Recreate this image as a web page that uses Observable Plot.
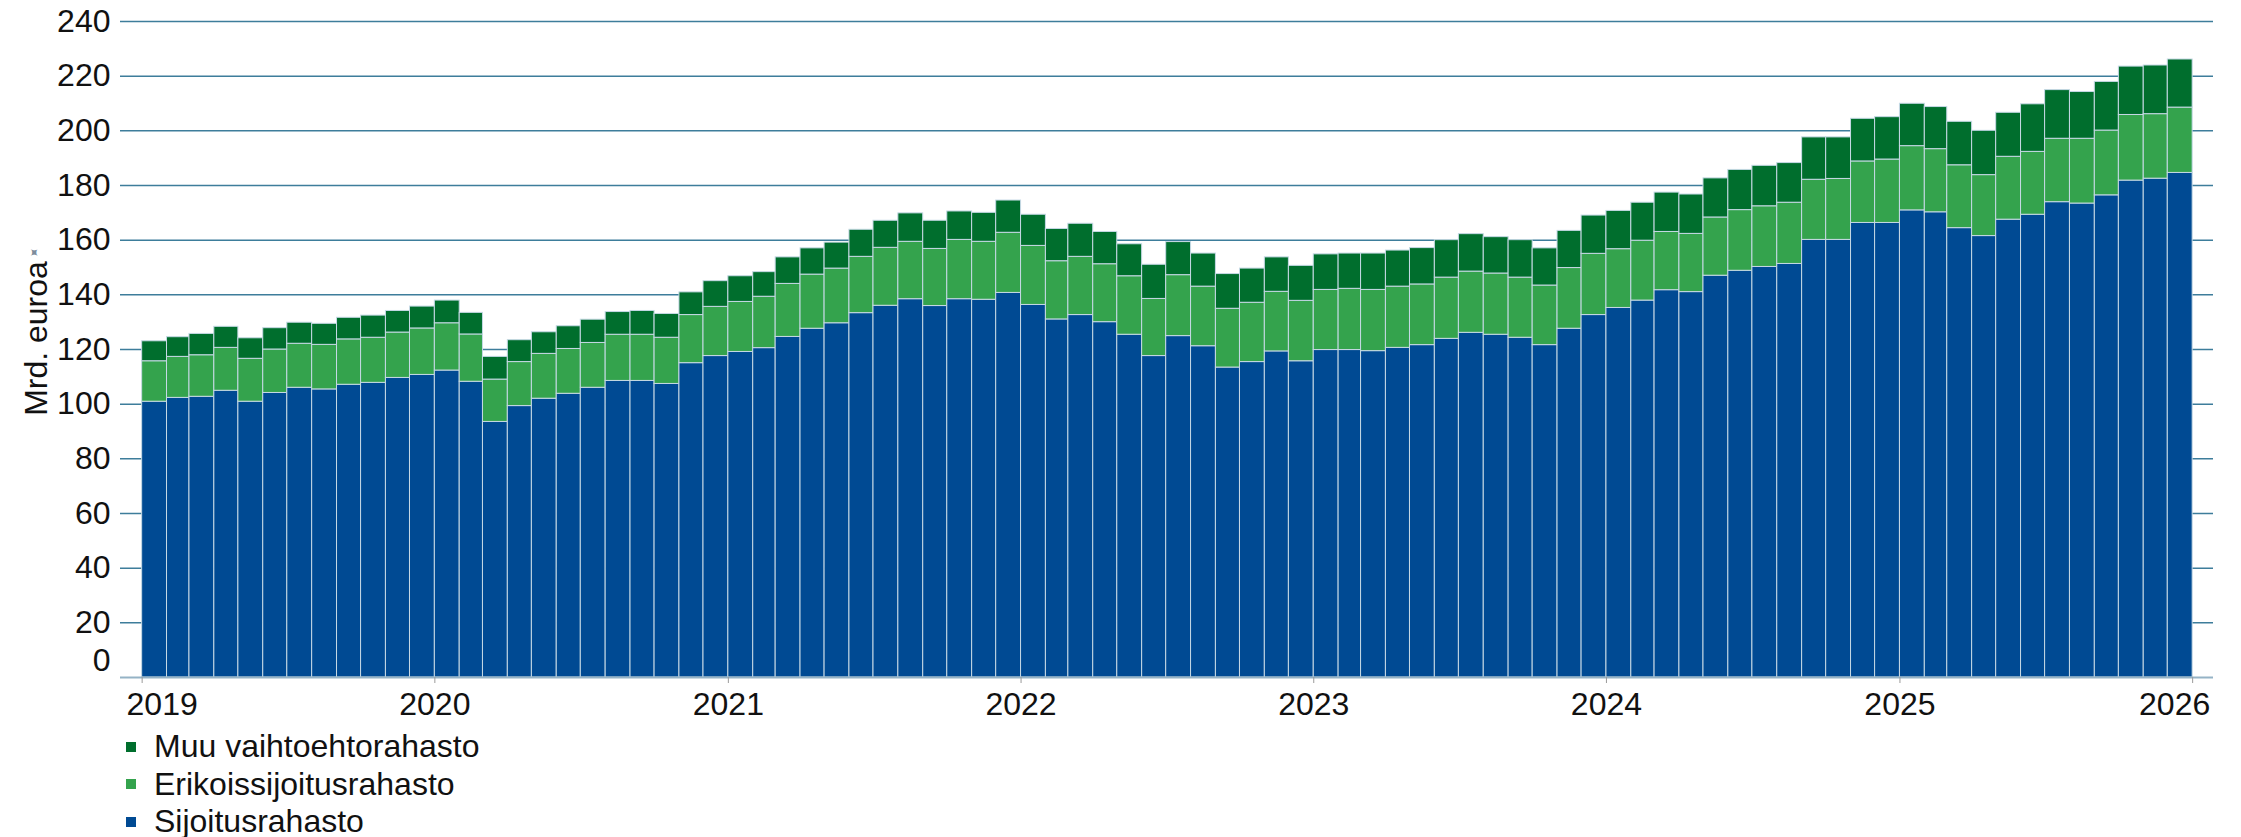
<!DOCTYPE html>
<html>
<head>
<meta charset="utf-8">
<script src="https://cdn.jsdelivr.net/npm/d3@7"></script>
<script src="https://cdn.jsdelivr.net/npm/@observablehq/plot@0.6"></script>
<style>
  html, body { margin: 0; padding: 0; background: #ffffff; }
  body { font-family: "Liberation Sans", Arial, sans-serif; color: #111; }
  #chart svg { display: block; }
  #legend { margin-top: 6px; padding-left: 126px; font-size: 32px; line-height: 37.5px; }
  #legend .row { white-space: nowrap; }
  #legend .sw { display: inline-block; width: 10px; height: 10px; margin-right: 18px; vertical-align: middle; position: relative; top: -2px; }
</style>
</head>
<body>
<div id="chart"></div>
<div id="legend"></div>
<script>
// ---- Data (monthly, Jan 2019 – Dec 2025), billions of euros ----
const firstMonth = [2019, 0];
const sijoitusrahasto = [
  100.9, 102.3, 102.7, 104.9, 100.9, 104.1, 106.0, 105.4, 107.1, 107.8, 109.6, 110.7,
  112.3, 108.2, 93.5, 99.3, 102.0, 103.8, 106.0, 108.5, 108.5, 107.4, 115.0, 117.6,
  119.1, 120.5, 124.6, 127.6, 129.6, 133.3, 136.0, 138.4, 135.9, 138.4, 138.2, 140.7,
  136.3, 131.0, 132.6, 130.0, 125.4, 117.6, 124.9, 121.2, 113.4, 115.4, 119.3, 115.7,
  119.8, 119.8, 119.4, 120.6, 121.6, 123.9, 126.1, 125.4, 124.3, 121.6, 127.6, 132.6,
  135.2, 137.9, 141.7, 141.0, 147.0, 148.8, 150.2, 151.3, 160.1, 160.1, 166.3, 166.3,
  170.9, 170.2, 164.4, 161.5, 167.5, 169.3, 173.9, 173.4, 176.4, 181.8, 182.5, 184.6
];
const erikoissijoitusrahasto = [
  14.8, 15.0, 15.2, 15.7, 15.7, 15.9, 16.1, 16.3, 16.6, 16.5, 16.6, 17.0,
  17.3, 17.3, 15.5, 16.1, 16.4, 16.4, 16.4, 16.9, 16.9, 16.9, 17.6, 18.0,
  18.3, 18.8, 19.4, 19.8, 20.0, 20.6, 21.2, 21.0, 20.9, 21.7, 21.2, 22.0,
  21.6, 21.3, 21.3, 21.2, 21.4, 20.9, 22.3, 21.8, 21.5, 21.7, 21.8, 22.1,
  22.0, 22.4, 22.4, 22.4, 22.2, 22.4, 22.4, 22.4, 22.0, 21.8, 22.2, 22.4,
  21.5, 21.9, 21.3, 21.3, 21.3, 22.2, 22.2, 22.4, 22.0, 22.3, 22.5, 23.2,
  23.5, 23.1, 23.0, 22.3, 23.0, 23.0, 23.2, 23.7, 23.7, 24.0, 23.6, 23.9
];
const muuVaihtoehtorahasto = [
  7.3, 7.2, 7.8, 7.7, 7.5, 7.8, 7.7, 7.7, 7.9, 8.1, 7.9, 8.0,
  8.3, 7.9, 8.3, 8.0, 7.9, 8.3, 8.5, 8.3, 8.7, 8.7, 8.3, 9.4,
  9.4, 9.0, 9.7, 9.6, 9.5, 9.9, 9.9, 10.4, 10.3, 10.4, 10.6, 11.8,
  11.4, 11.8, 12.1, 11.8, 11.7, 12.5, 12.1, 12.1, 12.7, 12.5, 12.6, 12.8,
  13.0, 12.9, 13.3, 13.2, 13.3, 13.7, 13.7, 13.3, 13.7, 13.6, 13.6, 14.0,
  14.0, 13.9, 14.4, 14.4, 14.3, 14.7, 14.8, 14.5, 15.5, 15.2, 15.6, 15.5,
  15.5, 15.4, 15.9, 16.2, 16.1, 17.4, 17.8, 17.1, 17.8, 17.7, 17.8, 17.6
];
const seriesNames = ["Sijoitusrahasto", "Erikoissijoitusrahasto", "Muu vaihtoehtorahasto"];
const seriesColors = ["#004a93", "#34a34d", "#006e2d"];
const legendOrder = ["Muu vaihtoehtorahasto", "Erikoissijoitusrahasto", "Sijoitusrahasto"];
const yTickValues = [0, 20, 40, 60, 80, 100, 120, 140, 160, 180, 200, 220, 240];
const xTickYears = [2019, 2020, 2021, 2022, 2023, 2024, 2025, 2026];
const yLabel = "Mrd. euroa";

// ---- Build table ----
const start = new Date(Date.UTC(firstMonth[0], firstMonth[1], 1));
const seriesValues = [sijoitusrahasto, erikoissijoitusrahasto, muuVaihtoehtorahasto];
const rows = [];
for (let i = 0; i < sijoitusrahasto.length; i++) {
  const date = d3.utcMonth.offset(start, i);
  seriesNames.forEach((name, k) => rows.push({date, series: name, value: seriesValues[k][i]}));
}
const yearDate = y => new Date(Date.UTC(y, 0, 1));
const yearTicks = xTickYears.map(yearDate);
const firstYear = xTickYears[0], lastYear = xTickYears[xTickYears.length - 1];

const font = "'Liberation Sans', Arial, sans-serif";

const chart = Plot.plot({
  width: 2241,
  height: 722,
  marginTop: 21,
  marginBottom: 45,
  marginLeft: 120,
  marginRight: 28,
  style: {fontFamily: font, fontSize: "32px", color: "#111", background: "#fff"},
  x: {type: "utc", domain: [d3.utcDay.offset(yearDate(firstYear), -27), d3.utcDay.offset(yearDate(lastYear), 26)], label: null},
  y: {domain: [0, 240], label: null},
  color: {domain: seriesNames, range: seriesColors},
  marks: [
    Plot.ruleY(yTickValues.filter(d => d > 0), {stroke: "#3d7d9b", strokeWidth: 1.5}),
    Plot.rectY(rows, Plot.stackY({
      x1: "date",
      x2: d => d3.utcMonth.offset(d.date, 1),
      y: "value",
      fill: "series",
      order: seriesNames,
      stroke: "#c6d9e5",
      strokeWidth: 1
    })),
    Plot.ruleY([0], {stroke: "#95b3c6", strokeWidth: 2}),
    Plot.axisY({ticks: yTickValues.filter(d => d > 0), tickSize: 0, tickPadding: 10, fontSize: 32, label: null}),
    Plot.axisY({ticks: [0], tickSize: 0, tickPadding: 10, fontSize: 32, dy: -17, label: null}),
    Plot.axisX({ticks: yearTicks, tickSize: 6, tickPadding: 9, stroke: "#9a9a9a", fontSize: 32, label: null,
      tickFormat: d => { const y = d.getUTCFullYear(); return (y === firstYear || y === lastYear) ? "" : String(y); }}),
    Plot.axisX({ticks: [yearDate(firstYear)], tickSize: 0, tickPadding: 15, dx: 20, fontSize: 32, label: null, tickFormat: d => String(d.getUTCFullYear())}),
    Plot.axisX({ticks: [yearDate(lastYear)], tickSize: 0, tickPadding: 15, dx: -18, fontSize: 32, label: null, tickFormat: d => String(d.getUTCFullYear())}),
    Plot.text([yLabel], {frameAnchor: "left", rotate: -90, dx: -84, dy: -11, fontSize: 32, fill: "#111", textAnchor: "middle"}),
    Plot.text(["✦"], {frameAnchor: "top-left", dx: -87, dy: 224, fontSize: 13, fill: "#7d8c9c", rotate: 45})
  ]
});
document.getElementById("chart").appendChild(chart);

// ---- Legend ----
const legend = d3.select("#legend");
legendOrder.forEach(name => {
  const row = legend.append("div").attr("class", "row");
  row.append("span").attr("class", "sw").style("background", seriesColors[seriesNames.indexOf(name)]);
  row.append("span").text(name);
});
</script>
</body>
</html>
